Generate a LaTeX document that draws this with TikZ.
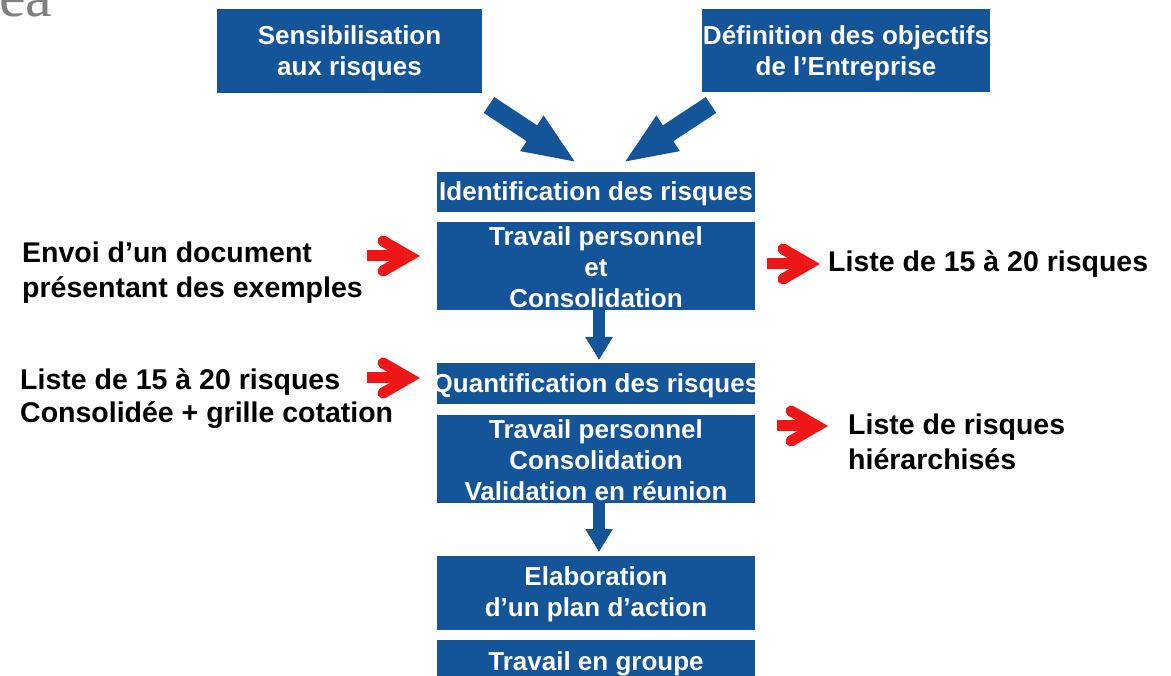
\documentclass[tikz,border=0pt]{standalone}
\usepackage{fontspec}
\setmainfont{Liberation Sans}
\newfontfamily\eafont{Liberation Serif}
\usetikzlibrary{arrows.meta,calc}
\definecolor{boxblue}{RGB}{20,84,152}
\definecolor{arrred}{RGB}{238,22,22}
\definecolor{eagray}{RGB}{128,128,128}
\newcommand\redarrowdraw[2]{%
  \draw[redshaft] (#1) -- ($(#2)+(-10,0)$);
  \draw[redhead] ($(#2)+(-37,-15)$) -- ($(#2)+(-11,0)$) -- ($(#2)+(-37,15)$);
}
\begin{document}
\begin{tikzpicture}[x=1pt,y=-1pt,
  bluebox/.style={fill=boxblue, text=white, font=\bfseries\fontsize{26}{31}\selectfont, inner sep=0pt, align=center, anchor=center},
  sidetext/.style={font=\bfseries\fontsize{28.5}{35}\selectfont, inner sep=0pt, align=left, anchor=west, text=black},
  bigarrow/.style={draw=boxblue, fill=boxblue, line width=19pt, -{Triangle[length=54pt,width=38pt]}},
  downarrow/.style={draw=boxblue, fill=boxblue, line width=12pt, -{Triangle[length=23pt,width=26pt]}},
  redshaft/.style={draw=arrred, line width=11pt, line cap=butt},
  redhead/.style={draw=arrred, line width=11pt, line cap=round, line join=miter},
]
\useasboundingbox (0,0) rectangle (1171,676);
\clip (0,0) rectangle (1171,676);
\fill[white] (0,0) rectangle (1171,676);

\node[anchor=base west, inner sep=0pt, text=eagray, font=\eafont\fontsize{60}{60}\selectfont] (ea) at (-1,17) {ea};

% blue boxes
\node[bluebox, minimum width=265pt, minimum height=84pt] (sens) at (349.5,51) {\rule{0pt}{24pt}Sensibilisation\\aux risques};
\node[bluebox, minimum width=288pt, minimum height=83pt] (defobj) at (846,50.5) {\rule{0pt}{24pt}Définition des objectifs\\de l’Entreprise};
\node[bluebox, minimum width=318pt, minimum height=40pt] (ident) at (596,192) {\rule{0pt}{22pt}Identification des risques};
\node[bluebox, minimum width=318pt, minimum height=88pt] (trav1) at (596,266) {\rule{0pt}{22pt}Travail personnel\\et\\Consolidation};
\node[bluebox, minimum width=318pt, minimum height=41pt] (quant) at (596,384) {\rule{0pt}{22pt}\makebox[300pt]{Quantification des risques}};
\node[bluebox, minimum width=318pt, minimum height=88pt] (trav2) at (596,459) {\rule{0pt}{22pt}Travail personnel\\Consolidation\\Validation en réunion};
\node[bluebox, minimum width=318pt, minimum height=74pt] (elab) at (596,593) {\rule{0pt}{22pt}Elaboration\\d’un plan d’action};
\node[bluebox, minimum width=318pt, minimum height=44pt] (travg) at (596,662) {\rule{0pt}{22pt}Travail en groupe};

% side texts
\node[sidetext] (envoi) at (22,273) {Envoi d’un document\\présentant des exemples};
\node[sidetext, anchor=base west] (liste1) at (828,272) {Liste de 15 à 20 risques};
\node[sidetext, font=\bfseries\fontsize{28.5}{33}\selectfont] (liste2) at (20,399) {Liste de 15 à 20 risques\\Consolidée + grille cotation};
\node[sidetext] (hier) at (848,442) {Liste de risques\\hiérarchisés};

% big blue arrows
\coordinate (a1s) at (489,105);
\coordinate (a1e) at (577,163);
\coordinate (a2s) at (711,105);
\coordinate (a2e) at (623,163);
\draw[bigarrow] (a1s) -- (a1e);
\draw[bigarrow] (a2s) -- (a2e);

% down arrows
\coordinate (d1s) at (599,309);
\coordinate (d1e) at (599,360);
\coordinate (d2s) at (599,502);
\coordinate (d2e) at (599,552);
\draw[downarrow] (d1s) -- (d1e);
\draw[downarrow] (d2s) -- (d2e);

% red arrows
\coordinate (r1s) at (367,256);
\coordinate (r1t) at (420,256);
\coordinate (r2s) at (767,264);
\coordinate (r2t) at (820,264);
\coordinate (r3s) at (367,378);
\coordinate (r3t) at (420,378);
\coordinate (r4s) at (777,426);
\coordinate (r4t) at (828,426);
\redarrowdraw{r1s}{r1t}
\redarrowdraw{r2s}{r2t}
\redarrowdraw{r3s}{r3t}
\redarrowdraw{r4s}{r4t}
\end{tikzpicture}
\end{document}
